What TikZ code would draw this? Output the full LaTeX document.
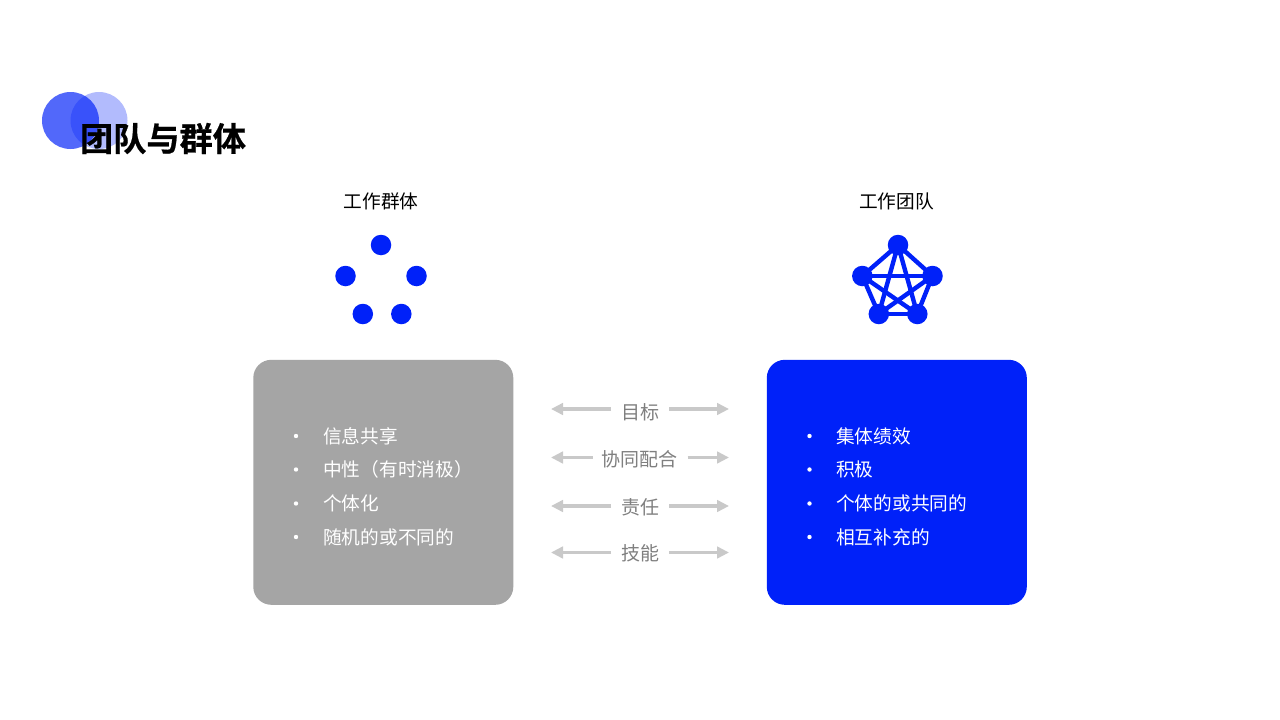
\documentclass[tikz,border=0pt]{standalone}
\usepackage{fontspec}
\setmainfont{Noto Sans CJK SC}
\newfontfamily\cjkbold[FakeBold=0.6]{Noto Sans CJK SC Bold}
\usetikzlibrary{arrows.meta}
\definecolor{brandblue}{HTML}{0021F9}
\definecolor{boxgray}{HTML}{A5A5A5}
\definecolor{arrowgray}{HTML}{C9C9C9}
\definecolor{labelgray}{HTML}{7F7F7F}
\tikzset{
  dot/.style={circle,fill=brandblue,draw=none,minimum size=20.5pt,inner sep=0pt},
  link/.style={draw=brandblue,line width=4.4pt},
  panel/.style={rounded corners=18pt,draw=none,minimum width=260pt,minimum height=245pt,inner sep=0pt},
  heading/.style={font=\fontsize{18.7pt}{22pt}\selectfont,text=black,inner sep=0pt},
  listtext/.style={font=\fontsize{18.7pt}{22pt}\selectfont,text=white,inner sep=0pt,anchor=west},
  bulletmark/.style={circle,fill=white,minimum size=4.4pt,inner sep=0pt},
  midlabel/.style={font=\fontsize{19pt}{22pt}\selectfont,text=labelgray,inner sep=0pt},
  flow/.style={draw=arrowgray,line width=3.8pt,-{Triangle[length=12pt,width=11.5pt]}},
  endpoint/.style={inner sep=0pt,minimum size=0pt}
}
\begin{document}
\begin{tikzpicture}[x=1pt,y=-1pt]
\useasboundingbox (0,0) rectangle (1280,720);
\fill[white] (0,0) rectangle (1280,720);
% logo
\fill[brandblue,opacity=.30] (99,120.5) circle (28.5);
\fill[brandblue,opacity=.68] (70.5,120.5) circle (28.5);
\node[inner sep=0pt,text=black] (title) at (163,138.5) {\fontsize{33.2pt}{36pt}\selectfont\cjkbold 团队与群体};
% headings
\node[heading] (hl) at (381,201) {工作群体};
\node[heading] (hr) at (896.5,201) {工作团队};
% left dots
\node[dot] (a1) at (381,245) {};
\node[dot] (a2) at (345.5,276) {};
\node[dot] (a3) at (416.5,276) {};
\node[dot] (a4) at (362.8,314) {};
\node[dot] (a5) at (401.3,314) {};
% right dots
\node[dot] (b1) at (898,245) {};
\node[dot] (b2) at (862.3,276) {};
\node[dot] (b3) at (932.5,276) {};
\node[dot] (b4) at (878.8,314) {};
\node[dot] (b5) at (917.3,314) {};
\foreach \p/\q in {b1/b2,b1/b3,b1/b4,b1/b5,b2/b3,b2/b4,b2/b5,b3/b4,b3/b5,b4/b5}
  \draw[link] (\p.center) -- (\q.center);
% panels
\node[panel,fill=boxgray] (pl) at (383.3,482.3) {};
\node[panel,fill=brandblue] (pr) at (896.8,482.3) {};
% left list
\foreach \n/\y/\t in {1/436/信息共享,2/469.5/中性（有时消极）,3/503.5/个体化,4/537/随机的或不同的}{
  \node[bulletmark] (lb\n) at (296,\y) {};
  \node[listtext] (lt\n) at (323,\y) {\t};
}
% right list
\foreach \n/\y/\t in {1/436/集体绩效,2/469.5/积极,3/503.5/个体的或共同的,4/537/相互补充的}{
  \node[bulletmark] (rb\n) at (809.5,\y) {};
  \node[listtext] (rt\n) at (836,\y) {\t};
}
% middle
\node[midlabel] (m1) at (640.5,412) {目标};
\node[midlabel] (m2) at (639.5,459.5) {协同配合};
\node[midlabel] (m3) at (640,507) {责任};
\node[midlabel] (m4) at (640,553.5) {技能};
\coordinate (m1a) at (611,409); \coordinate (m1b) at (551,409);
\coordinate (m1c) at (669,409); \coordinate (m1d) at (729,409);
\coordinate (m2a) at (592.5,457.5); \coordinate (m2b) at (551,457.5);
\coordinate (m2c) at (687.5,457.5); \coordinate (m2d) at (729,457.5);
\coordinate (m3a) at (611,506); \coordinate (m3b) at (551,506);
\coordinate (m3c) at (669,506); \coordinate (m3d) at (729,506);
\coordinate (m4a) at (611,552.5); \coordinate (m4b) at (551,552.5);
\coordinate (m4c) at (669,552.5); \coordinate (m4d) at (729,552.5);
\foreach \n in {1,2,3,4}{
  \draw[flow] (m\n a) -- (m\n b);
  \draw[flow] (m\n c) -- (m\n d);
}
\end{tikzpicture}
\end{document}
